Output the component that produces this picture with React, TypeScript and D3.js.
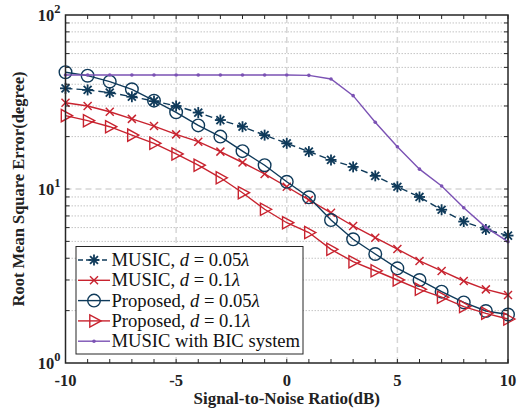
import React from 'react';
import * as d3 from 'd3';

const snr = d3.range(-10, 11);

const musicD005 = [37.9, 37.1, 35.8, 33.9, 32.0, 30.0, 27.5, 24.9, 22.8, 20.4, 18.3, 16.4, 14.7, 13.4, 11.9, 10.3, 9.0, 7.6, 6.5, 5.85, 5.4];
const musicD01 = [31.3, 30.0, 27.8, 25.3, 23.0, 20.6, 18.7, 16.4, 14.2, 12.2, 10.3, 8.65, 7.3, 6.13, 5.25, 4.52, 3.86, 3.38, 2.96, 2.65, 2.46];
const propD005 = [46.9, 44.8, 41.4, 37.4, 32.2, 27.6, 23.2, 20.0, 16.5, 13.7, 11.0, 8.96, 6.63, 5.14, 4.23, 3.5, 3.0, 2.57, 2.23, 1.99, 1.9];
const propD01 = [26.4, 24.7, 22.8, 20.4, 18.3, 15.9, 13.7, 11.6, 9.52, 7.65, 6.4, 5.62, 4.5, 3.82, 3.39, 3.0, 2.65, 2.39, 2.11, 1.93, 1.79];
const musicBic = [45.2, 45.2, 45.2, 45.2, 45.2, 45.2, 45.2, 45.2, 45.2, 45.2, 45.2, 45.0, 42.9, 34.4, 24.2, 17.5, 13.0, 10.4, 7.8, 6.02, 4.98];

const xTicks = [-10, -5, 0, 5, 10];
const yDecades = [0, 1, 2];

const NAVY = '#0f3a5a';
const RED = '#c8232f';
const PURPLE = '#7b52b4';

const W = 520, H = 410;
const margin = { top: 15, right: 12, bottom: 47, left: 65.5 };

type Kind = 'star' | 'x' | 'circle' | 'tri' | 'dot';

const series: { label: [string, string]; values: number[]; color: string; dash?: string; marker: Kind }[] = [
  { label: ['MUSIC, ', '0.05'], values: musicD005, color: NAVY, dash: '7,4', marker: 'star' },
  { label: ['MUSIC, ', '0.1'], values: musicD01, color: RED, marker: 'x' },
  { label: ['Proposed, ', '0.05'], values: propD005, color: NAVY, marker: 'circle' },
  { label: ['Proposed, ', '0.1'], values: propD01, color: RED, marker: 'tri' },
  { label: ['MUSIC with BIC system', ''], values: musicBic, color: PURPLE, marker: 'dot' },
];

function Marker({ kind, x, y, color }: { kind: Kind; x: number; y: number; color: string }) {
  if (kind === 'star') {
    const r = 5.5, q = r * 0.72;
    return (
      <g stroke={color} strokeWidth={1.8}>
        <line x1={x - r} y1={y} x2={x + r} y2={y} />
        <line x1={x} y1={y - r} x2={x} y2={y + r} />
        <line x1={x - q} y1={y - q} x2={x + q} y2={y + q} />
        <line x1={x - q} y1={y + q} x2={x + q} y2={y - q} />
      </g>
    );
  }
  if (kind === 'x') {
    const r = 4;
    return (
      <g stroke={color} strokeWidth={1.5}>
        <line x1={x - r} y1={y - r} x2={x + r} y2={y + r} />
        <line x1={x - r} y1={y + r} x2={x + r} y2={y - r} />
      </g>
    );
  }
  if (kind === 'circle') {
    return <circle cx={x} cy={y} r={6.3} fill="none" stroke={color} strokeWidth={1.4} />;
  }
  if (kind === 'tri') {
    const r = 7;
    return <path d={`M${x + r},${y}L${x - r * 0.6},${y - r * 0.87}L${x - r * 0.6},${y + r * 0.87}Z`} fill="none" stroke={color} strokeWidth={1.4} />;
  }
  return <circle cx={x} cy={y} r={1.8} fill={color} />;
}

export default function App() {
  const x = d3.scaleLinear().domain([-10, 10]).range([margin.left, W - margin.right]);
  const y = d3.scaleLog().domain([1, 100]).range([H - margin.bottom, margin.top]);
  const line = d3.line<number>().x((_, i) => x(snr[i])).y(d => y(d));

  const minorY: number[] = [];
  [1, 10].forEach(b => d3.range(2, 10).forEach(k => minorY.push(b * k)));
  const x0 = x(-10), x1 = x(10), y0 = y(1), y1 = y(100);

  const lg = { x: 76, y: 246.5, w: 227, h: 107.5, row: 20.3 };
  const fontSerif = '"Liberation Serif", "Times New Roman", serif';

  return (
    <svg width={W} height={H} style={{ position: 'absolute', left: 0, top: 0, background: '#fff' }} fontFamily={fontSerif}>
      {/* minor grid */}
      {minorY.map(v => (
        <line key={'mg' + v} x1={x0} x2={x1} y1={y(v)} y2={y(v)} stroke="#c4c4c4" strokeWidth={1} strokeDasharray="1.5,1.5" />
      ))}
      {/* major grid */}
      {xTicks.slice(1, -1).map(t => (
        <line key={'gx' + t} x1={x(t)} x2={x(t)} y1={y0} y2={y1} stroke="#d6d6d6" strokeWidth={1.5} strokeDasharray="6,4" />
      ))}
      <line x1={x0} x2={x1} y1={y(10)} y2={y(10)} stroke="#d6d6d6" strokeWidth={1.5} strokeDasharray="6,4" />

      {/* series */}
      {series.map((s, i) => (
        <g key={i}>
          <path d={line(s.values) || ''} fill="none" stroke={s.color} strokeWidth={1.4} strokeDasharray={s.dash} />
          {s.values.map((v, j) => (
            <Marker key={j} kind={s.marker} x={x(snr[j])} y={y(v)} color={s.color} />
          ))}
        </g>
      ))}

      {/* frame & ticks */}
      <rect x={x0} y={y1} width={x1 - x0} height={y0 - y1} fill="none" stroke="#262626" strokeWidth={1.5} />
      {snr.map(t => (
        <g key={'tx' + t} stroke="#262626" strokeWidth={1}>
          <line x1={x(t)} x2={x(t)} y1={y0} y2={y0 - 4} />
          <line x1={x(t)} x2={x(t)} y1={y1} y2={y1 + 4} />
        </g>
      ))}
      {minorY.concat([10]).map(v => (
        <g key={'ty' + v} stroke="#262626" strokeWidth={1}>
          <line x1={x0} x2={x0 + 4} y1={y(v)} y2={y(v)} />
          <line x1={x1} x2={x1 - 4} y1={y(v)} y2={y(v)} />
        </g>
      ))}
      {xTicks.map(t => (
        <text key={'lx' + t} x={x(t)} y={y0 + 23} textAnchor="middle" fontSize={16.5} fontWeight="bold" fill="#222">{t}</text>
      ))}
      {yDecades.map(p => (
        <text key={'ly' + p} x={x0 - 5} y={y(Math.pow(10, p)) + 6} textAnchor="end" fontSize={16.5} fontWeight="bold" fill="#222">
          10<tspan dy={-8} fontSize={12.5}>{p}</tspan>
        </text>
      ))}
      <text x={(x0 + x1) / 2} y={404} textAnchor="middle" fontSize={17} fontWeight="bold" fill="#222">Signal-to-Noise Ratio(dB)</text>
      <text transform={`translate(24,${(y0 + y1) / 2}) rotate(-90)`} textAnchor="middle" fontSize={16.5} fontWeight="bold" fill="#222">Root Mean Square Error(degree)</text>

      {/* legend */}
      <rect x={lg.x} y={lg.y} width={lg.w} height={lg.h} fill="#fff" stroke="#262626" strokeWidth={1} />
      {series.map((s, i) => {
        const cy = lg.y + 13.5 + i * lg.row;
        return (
          <g key={'lg' + i}>
            <line x1={lg.x + 2} x2={lg.x + 34} y1={cy} y2={cy} stroke={s.color} strokeWidth={1.4} strokeDasharray={s.dash ? '5,3' : undefined} />
            <Marker kind={s.marker} x={lg.x + 18} y={cy} color={s.color} />
            <text x={lg.x + 35.5} y={cy + 6} fontSize={18.6} fill="#111">
              {s.label[0]}
              {s.label[1] && (
                <>
                  <tspan fontStyle="italic">d</tspan>
                  {' = ' + s.label[1]}
                  <tspan fontStyle="italic">λ</tspan>
                </>
              )}
            </text>
          </g>
        );
      })}
    </svg>
  );
}
